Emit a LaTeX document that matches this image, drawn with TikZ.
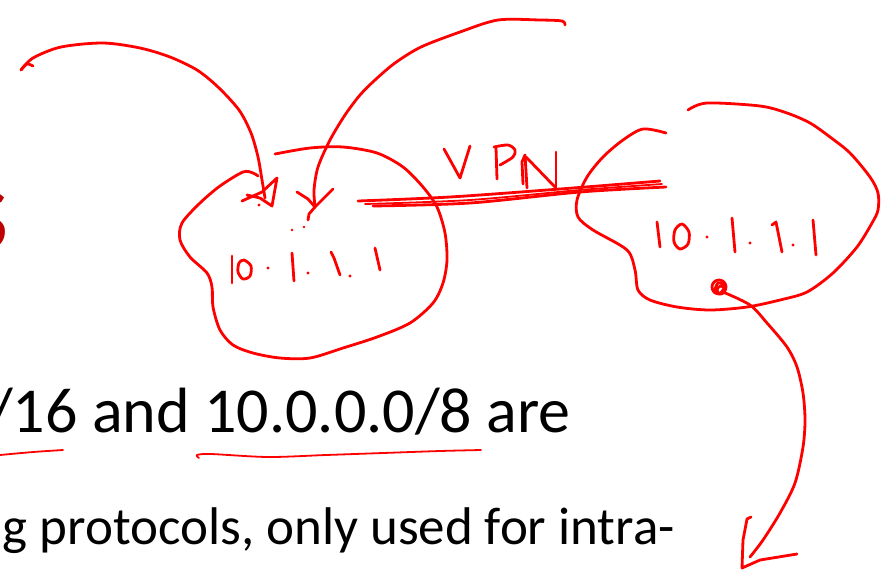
\documentclass[tikz,border=0pt]{standalone}
\usepackage{fontspec}
\setmainfont{Carlito}
\definecolor{ink}{RGB}{255,0,0}
\definecolor{titlered}{RGB}{192,0,0}
\tikzset{
  pen/.style={draw=ink, line width=2.8pt, line cap=round, line join=round},
  thinpen/.style={draw=ink, line width=1.8pt, line cap=round, line join=round},
  body/.style={inner sep=0pt, text=black},
  dotmark/.style={fill=ink, draw=none}
}
\begin{document}
\begin{tikzpicture}[x=1pt,y=-1pt]
\useasboundingbox (0,0) rectangle (882,576);
\clip (0,0) rectangle (882,576);
\fill[white] (0,0) rectangle (882,576);
% slide text
\node[inner sep=0pt, anchor=base east, font=\fontsize{120}{130}\selectfont, text=titlered] (title) at (10,249) {s};
\node[body, anchor=base east, font=\fontsize{64}{70}\selectfont] (line1) at (571,432) {/16 and 10.0.0.0/8 are};
\node[body, anchor=base east, font=\fontsize{53}{60}\selectfont] (line2) at (675,544) {g protocols, only used for intra-};
% underlines
\draw[thinpen] plot[smooth] coordinates {(0,455) (33,452) (63,450)};
\draw[thinpen] plot[smooth] coordinates {(199,458) (197,455) (211,454) (268,457) (326,455) (383,453) (440,451) (481,450)};
% left blob
\draw[pen] plot[smooth] coordinates {(275,154) (310,148) (343,147) (377,153) (403,167) (423,187) (437,207) (445,233) (447,260) (443,283) (433,303) (410,323) (377,337) (343,348) (310,358) (280,358) (253,353) (233,345) (220,330) (213,307) (212,287) (207,273) (190,257) (180,240) (182,223) (200,203) (220,186) (243,172) (253,173) (258,176)};
% left address 10.1.1.1
\draw[pen] (232,256) -- (232,283);
\draw[pen] plot[smooth cycle] coordinates {(244,260) (251,266) (250,276) (243,279) (238,272) (239,263)};
\fill[dotmark] (268,268) circle (1.7);
\draw[pen] (292,253) -- (294,281);
\fill[dotmark] (308,273) circle (1.7);
\draw[pen] (331,252) -- (334,258) -- (340,275);
\fill[dotmark] (350,276) circle (1.7);
\draw[pen] (375,248) -- (380,270);
% arrow 1
\draw[pen] plot[smooth] coordinates {(33,66) (27,64) (21,70)};
\draw[pen] plot[smooth] coordinates {(21,70) (33,58) (61,47) (103,43) (140,48) (170,57) (197,70) (218,87) (239,110) (251,133) (258,157) (262,180) (265,198)};
\draw[pen] (242,201) -- (262,192) -- (277,178) -- (272,206) -- (260,198) -- (247,195);
\fill[dotmark] (259,205) circle (1.6);
% arrow 2
\draw[pen] plot[smooth] coordinates {(565,25) (562,21) (540,20) (498,20) (460,32) (421,47) (395,63) (375,80) (360,95) (345,115) (330,140) (318,167) (314,190) (315,206)};
\draw[pen] (297,192) -- (308,199) -- (315,207) -- (322,200) -- (333,189);
\draw[pen] (315,207) -- (309,214) -- (308,220);
\fill[dotmark] (292,230) circle (1.3);
\fill[dotmark] (304,227) circle (1.3);
% VPN link
\draw[pen] plot[smooth] coordinates {(358,201) (450,197) (560,189) (660,181)};
\draw[pen] plot[smooth] coordinates {(373,206) (470,203) (580,192) (666,187)};
\draw[thinpen] plot[smooth] coordinates {(365,204) (470,200) (580,190) (662,184)};
% VPN letters
\draw[pen] (444,149) -- (460,178) -- (470,146);
\draw[pen] (496,148) -- (497,179);
\draw[pen] plot[smooth] coordinates {(494,147) (508,145) (515,150) (513,157) (500,165)};
\draw[pen] (527,188) -- (525,155) -- (522,162) -- (523,184);
\draw[pen] (526,157) -- (555,187);
\draw[pen] (556,152) -- (556,188);
% right blob
\draw[pen] plot[smooth] coordinates {(688,110) (707,103) (760,106) (787,113) (810,123) (830,137) (850,153) (870,177) (878,193) (878,210) (872,223) (857,247) (833,273) (807,292) (780,300) (747,307) (710,310) (677,307) (650,300) (638,290) (635,270) (627,250) (593,230) (578,217) (577,200) (587,177) (603,157) (623,140) (643,129) (666,133)};
% right address 10.1.1.1
\draw[pen] (657,222) -- (660,247);
\draw[pen] plot[smooth cycle] coordinates {(682,224) (689,232) (688,244) (680,249) (674,242) (675,230)};
\fill[dotmark] (707,237) circle (1.7);
\draw[pen] (732,218) -- (735,252);
\fill[dotmark] (750,243) circle (1.7);
\draw[pen] (772,225) -- (776,222) -- (782,252);
\fill[dotmark] (793,245) circle (1.7);
\draw[pen] (813,220) -- (816,255);
% scribble
\draw[pen] (719,287) circle (7);
\draw[pen] (721,290) circle (4);
\draw[pen] plot[smooth] coordinates {(714,292) (718,283) (725,286) (720,294)};
% long arrow
\draw[pen] plot[smooth] coordinates {(723,292) (750,305) (767,323) (787,347) (797,367) (803,393) (805,420) (803,447) (795,483) (780,513) (763,540) (750,557)};
\draw[pen] (751,517) -- (747,519) -- (743,540) -- (742,568) -- (760,560) -- (797,554);
\end{tikzpicture}
\end{document}
